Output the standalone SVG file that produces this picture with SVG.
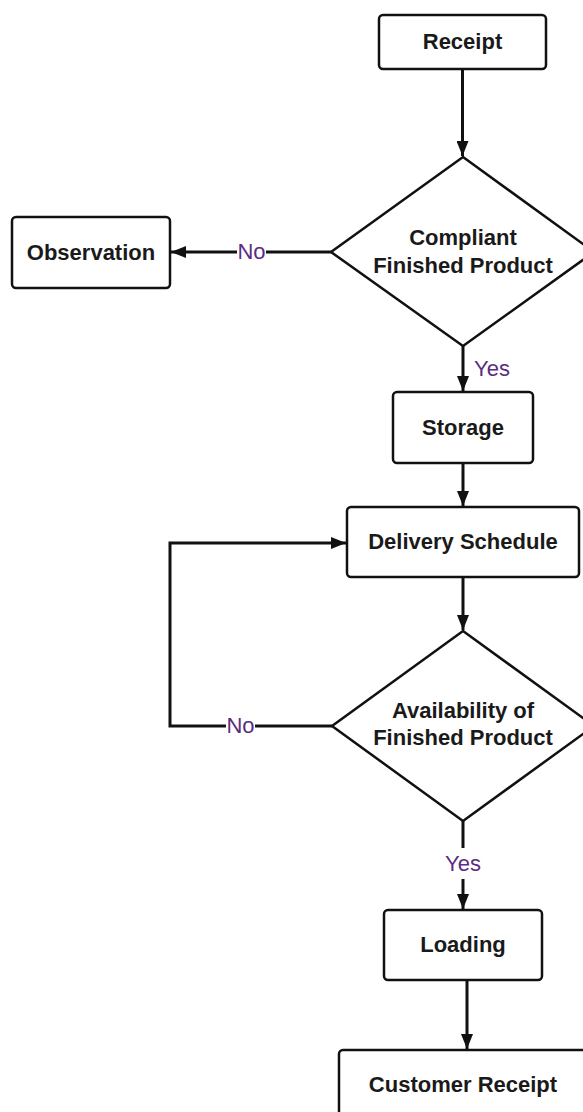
<svg xmlns="http://www.w3.org/2000/svg" width="583" height="1112" viewBox="0 0 583 1112">
  <style>
    .box { fill: #ffffff; stroke: #111111; stroke-width: 2.5; }
    .lbl { font-family: "Liberation Sans", Arial, sans-serif; font-weight: bold; font-size: 22px; fill: #1a1a1a; text-anchor: middle; dominant-baseline: central; }
    .edge { fill: none; stroke: #111111; stroke-width: 3; }
    .cond { font-family: "Liberation Sans", Arial, sans-serif; font-size: 22px; fill: #5a2d82; dominant-baseline: central; }
  </style>
  <defs>
    <marker id="arrow" viewBox="0 0 15 12" refX="15" refY="6" markerWidth="15" markerHeight="12" markerUnits="userSpaceOnUse" orient="auto">
      <path d="M0,0 L15,6 L0,12 Z" fill="#111111"/>
    </marker>
  </defs>
  <rect width="583" height="1112" fill="#ffffff"/>

  <g id="connectors">
    <path class="edge" d="M462.5,69 V156" marker-end="url(#arrow)"/>
    <path class="edge" d="M331,252 H171" marker-end="url(#arrow)"/>
    <path class="edge" d="M463,346 V391" marker-end="url(#arrow)"/>
    <path class="edge" d="M463,463 V506" marker-end="url(#arrow)"/>
    <path class="edge" d="M463,577 V630" marker-end="url(#arrow)"/>
    <path class="edge" d="M332,726 H170 V543 H346" marker-end="url(#arrow)"/>
    <path class="edge" d="M463,821 V848"/>
    <path class="edge" d="M463,879 V909" marker-end="url(#arrow)"/>
    <path class="edge" d="M467,980 V1049" marker-end="url(#arrow)"/>
    <rect x="237" y="240" width="29" height="24" fill="#ffffff"/>
    <text class="cond" x="251.5" y="251" text-anchor="middle">No</text>
    <text class="cond" x="474" y="368">Yes</text>
    <rect x="226" y="714" width="29" height="24" fill="#ffffff"/>
    <text class="cond" x="240.5" y="725" text-anchor="middle">No</text>
    <text class="cond" x="463" y="863" text-anchor="middle">Yes</text>
  </g>

  <g id="receipt">
    <rect class="box" x="379" y="15" width="167" height="54" rx="4"/>
    <text class="lbl" x="462.5" y="41">Receipt</text>
  </g>

  <g id="compliant">
    <polygon class="box" points="463,157 594,252 463,346 331,252"/>
    <text class="lbl" x="463" y="237">Compliant</text>
    <text class="lbl" x="463" y="265">Finished Product</text>
  </g>

  <g id="observation">
    <rect class="box" x="12" y="217" width="158" height="71" rx="4"/>
    <text class="lbl" x="91" y="252">Observation</text>
  </g>

  <g id="storage">
    <rect class="box" x="393" y="392" width="140" height="71" rx="4"/>
    <text class="lbl" x="463" y="427">Storage</text>
  </g>

  <g id="delivery">
    <rect class="box" x="347" y="507" width="232" height="70" rx="4"/>
    <text class="lbl" x="463" y="541">Delivery Schedule</text>
  </g>

  <g id="availability">
    <polygon class="box" points="463,631 594,726 463,821 332,726"/>
    <text class="lbl" x="463" y="710">Availability of</text>
    <text class="lbl" x="463" y="737">Finished Product</text>
  </g>

  <g id="loading">
    <rect class="box" x="384" y="910" width="158" height="70" rx="4"/>
    <text class="lbl" x="463" y="944">Loading</text>
  </g>

  <g id="customer-receipt">
    <rect class="box" x="339" y="1050" width="260" height="80" rx="4"/>
    <text class="lbl" x="463" y="1084">Customer Receipt</text>
  </g>
</svg>
